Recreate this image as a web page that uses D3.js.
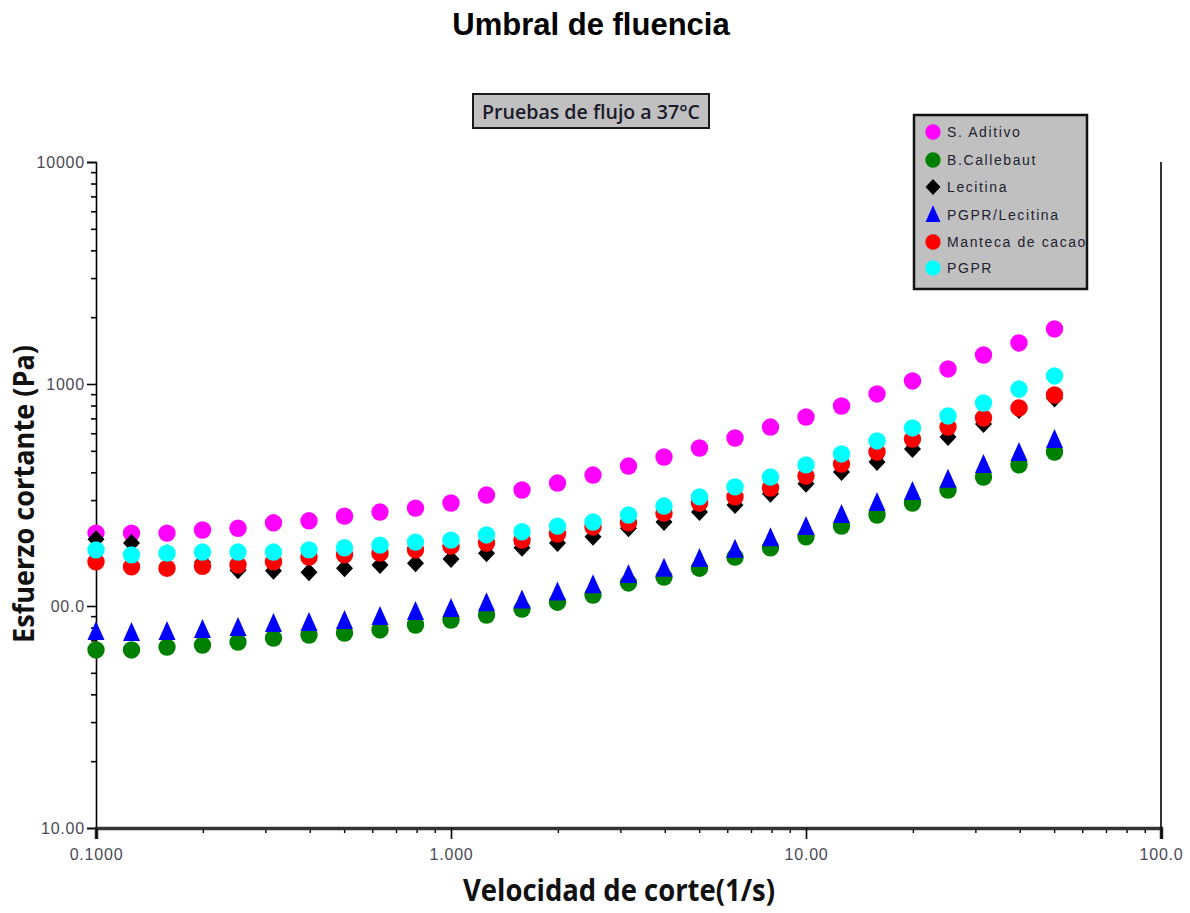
<!DOCTYPE html>
<html>
<head>
<meta charset="utf-8">
<script src="https://cdn.jsdelivr.net/npm/d3@7"></script>
<style>
  html, body { margin: 0; padding: 0; background: #fff; }
  svg { display: block; }
</style>
</head>
<body>
<svg id="chart" width="1190" height="913"></svg>
<script>
// ---------------- DATA ----------------
const shearRate = [0.1, 0.1259, 0.1585, 0.1995, 0.2512, 0.3162, 0.3981, 0.5012, 0.631, 0.7943,
  1, 1.259, 1.585, 1.995, 2.512, 3.162, 3.981, 5.012, 6.31, 7.943,
  10, 12.59, 15.85, 19.95, 25.12, 31.62, 39.81, 50.12];
const sAditivo = [213, 213, 213, 220, 224, 237, 242, 254, 265, 276, 291, 316, 333, 358, 389, 427, 469, 515, 571, 640, 710, 796, 902, 1032, 1169, 1351, 1531, 1770];
const bCallebaut = [63.4, 63.4, 65.3, 66.7, 68.8, 71.7, 74.0, 75.5, 78.0, 82.1, 86.5, 91.0, 96.9, 104, 112, 127, 135, 148, 166, 183, 205, 229, 257, 291, 333, 381, 432, 494];
const lecitina = [200, 192, 173, 158, 145, 144, 142, 148, 153, 156, 163, 173, 183, 192, 205, 224, 239, 265, 285, 320, 355, 401, 445, 509, 577, 660, 764, 860];
const pgprLecitina = [76.4, 75.5, 76.4, 78.0, 79.6, 83.0, 83.8, 85.5, 89.2, 94.0, 96.9, 103, 106, 115, 124, 138, 147, 163, 179, 202, 227, 257, 291, 326, 370, 432, 489, 560];
const mantecaCacao = [158, 150, 148, 151, 153, 158, 166, 170, 173, 179, 186, 192, 198, 211, 227, 237, 262, 291, 310, 340, 385, 436, 494, 565, 640, 703, 780, 892];
const pgpr = [179, 170, 173, 175, 175, 175, 179, 183, 188, 194, 198, 209, 216, 229, 239, 257, 282, 310, 344, 381, 432, 484, 554, 634, 718, 821, 949, 1087];

const seriesNames = ["S. Aditivo", "B.Callebaut", "Lecitina", "PGPR/Lecitina", "Manteca de cacao", "PGPR"];
const seriesValues = [sAditivo, bCallebaut, lecitina, pgprLecitina, mantecaCacao, pgpr];
const seriesColors = ["#ff00ff", "#008000", "#000000", "#0000ff", "#ff0000", "#00ffff"];
const seriesShapes = ["circle", "circle", "diamond", "triangle", "circle", "circle"];

const xTickValues = [0.1, 1, 10, 100];
const xTickLabels = ["0.1000", "1.000", "10.00", "100.0"];
const yTickValues = [10, 100, 1000, 10000];
const yTickLabels = ["10.00", "00.0", "1000", "10000"];

const titleText = "Umbral de fluencia";
const subtitleText = "Pruebas de flujo a 37°C";
const xTitle = "Velocidad de corte(1/s)";
const yTitle = "Esfuerzo cortante (Pa)";

// ---------------- LAYOUT ----------------
(function () {
const svg = d3.select("#chart");
const mLeft = 96, mRight = 1161, mTop = 162, mBottom = 828;

const x = d3.scaleLog().domain([0.1, 100]).range([mLeft, mRight]);
const y = d3.scaleLog().domain([10, 10000]).range([mBottom, mTop]);

const minorX = [], minorY = [];
[0.1, 1, 10].forEach(d => { for (let k = 2; k <= 9; k++) minorX.push(+(d * k).toPrecision(3)); });
[10, 100, 1000].forEach(d => { for (let k = 2; k <= 9; k++) minorY.push(d * k); });

// Title
svg.append("text").attr("x", 591).attr("y", 35).attr("text-anchor", "middle")
  .attr("font-family", "Liberation Sans, Arial, sans-serif").attr("font-weight", "bold")
  .attr("font-size", 31).attr("fill", "#000").text(titleText);

// Subtitle box
svg.append("rect").attr("x", 473).attr("y", 94).attr("width", 236).attr("height", 34)
  .attr("fill", "#c0c0c0").attr("stroke", "#1a1a1a").attr("stroke-width", 2);
svg.append("text").attr("x", 591).attr("y", 119).attr("text-anchor", "middle")
  .attr("font-family", "Open Sans, sans-serif").attr("font-weight", 600)
  .attr("font-size", 19).attr("fill", "#1a1a2a")
  .attr("textLength", 218).attr("lengthAdjust", "spacingAndGlyphs").text(subtitleText);

// Y axis: minor ticks
svg.append("g").attr("transform", `translate(${mLeft},0)`)
  .call(d3.axisLeft(y).tickValues(minorY).tickSize(5).tickFormat(""))
  .call(g => g.select(".domain").remove())
  .call(g => g.selectAll("line").attr("stroke", "#000").attr("stroke-width", 1.6));
// Y axis: major ticks + labels
svg.append("g").attr("transform", `translate(${mLeft},0)`)
  .call(d3.axisLeft(y).tickValues(yTickValues).tickSize(9).tickPadding(2)
    .tickFormat((d, i) => yTickLabels[i]))
  .call(g => g.select(".domain").attr("stroke", "#000").attr("stroke-width", 1.6))
  .call(g => g.selectAll("line").attr("stroke", "#000").attr("stroke-width", 1.6))
  .call(g => g.selectAll("text").attr("font-family", "Liberation Sans, Arial, sans-serif")
    .attr("font-size", 16).attr("fill", "#4a4a55").attr("letter-spacing", 0.8));

// X axis: minor ticks
svg.append("g").attr("transform", `translate(0,${mBottom})`)
  .call(d3.axisBottom(x).tickValues(minorX).tickSize(5).tickFormat(""))
  .call(g => g.select(".domain").remove())
  .call(g => g.selectAll("line").attr("stroke", "#000").attr("stroke-width", 1.4));
// X axis: major ticks + labels
svg.append("g").attr("transform", `translate(0,${mBottom})`)
  .call(d3.axisBottom(x).tickValues(xTickValues).tickSize(11).tickPadding(10)
    .tickFormat((d, i) => xTickLabels[i]))
  .call(g => g.select(".domain").attr("stroke", "#333").attr("stroke-width", 3.5))
  .call(g => g.selectAll("line").attr("stroke", "#000").attr("stroke-width", 1.6))
  .call(g => g.selectAll("text").attr("font-family", "Liberation Sans, Arial, sans-serif")
    .attr("font-size", 16).attr("fill", "#4a4a55").attr("letter-spacing", 0.8));

// Right frame line
svg.append("line").attr("x1", x(100)).attr("x2", x(100)).attr("y1", y(10000)).attr("y2", y(10))
  .attr("stroke", "#000").attr("stroke-width", 1.6);

// Axis titles
svg.append("text").attr("x", 619).attr("y", 901).attr("text-anchor", "middle")
  .attr("font-family", "Open Sans, sans-serif").attr("font-weight", "bold")
  .attr("font-size", 30).attr("fill", "#111")
  .attr("textLength", 312).attr("lengthAdjust", "spacingAndGlyphs").text(xTitle);
svg.append("text").attr("transform", "translate(34,494) rotate(-90)").attr("text-anchor", "middle")
  .attr("font-family", "Open Sans, sans-serif").attr("font-weight", "bold")
  .attr("font-size", 28).attr("fill", "#111")
  .attr("textLength", 298).attr("lengthAdjust", "spacingAndGlyphs").text(yTitle);

// Marker shapes
function shapePath(shape) {
  if (shape === "diamond") return "M0,-9L8.5,0L0,9L-8.5,0Z";
  if (shape === "triangle") return "M0,-11L8.5,8L-8.5,8Z";
  return d3.symbol().type(d3.symbolCircle).size(Math.PI * 8.7 * 8.7)();
}

// Data points
seriesValues.forEach((vals, si) => {
  svg.append("g").selectAll("path")
    .data(vals.map((v, i) => [shearRate[i], v]))
    .join("path")
    .attr("d", shapePath(seriesShapes[si]))
    .attr("transform", d => `translate(${x(d[0])},${y(d[1])})`)
    .attr("fill", seriesColors[si]);
});

// Legend
const lg = svg.append("g");
lg.append("rect").attr("x", 914).attr("y", 115).attr("width", 173).attr("height", 174)
  .attr("fill", "#c0c0c0").attr("stroke", "#111").attr("stroke-width", 2.5);
const rowY = [132, 160, 187, 215, 242, 268];
seriesNames.forEach((name, i) => {
  lg.append("path").attr("d", shapePath(seriesShapes[i]))
    .attr("transform", `translate(933,${rowY[i]}) scale(0.88)`).attr("fill", seriesColors[i]);
  lg.append("text").attr("x", 947).attr("y", rowY[i] + 5)
    .attr("font-family", "Liberation Sans, Arial, sans-serif").attr("font-size", 14)
    .attr("letter-spacing", 1.6).attr("fill", "#222230").text(name);
});
})();
</script>
</body>
</html>
